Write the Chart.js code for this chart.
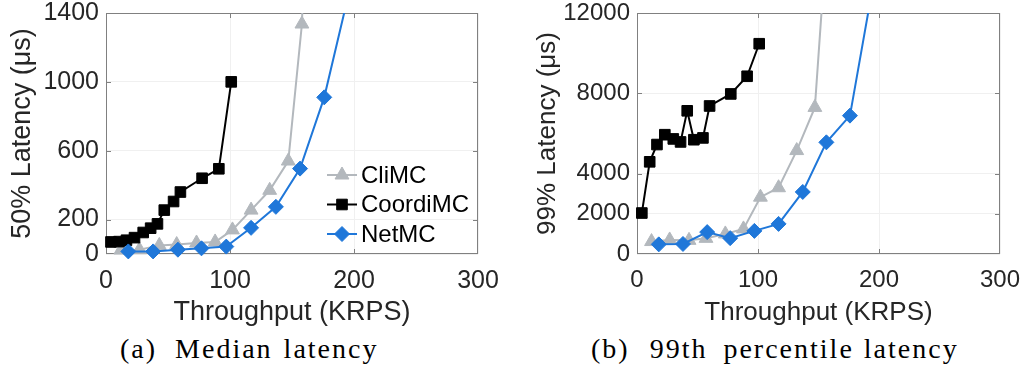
<!DOCTYPE html>
<html>
<head>
<meta charset="utf-8">
<script src="https://cdn.jsdelivr.net/npm/chart.js@4.4.1/dist/chart.umd.min.js"></script>
<style>
body{margin:0;background:#fff;width:1027px;height:369px;position:relative;overflow:hidden}
canvas{position:absolute;top:0}
#c1{left:0}
#c2{left:520px}
.cap{position:absolute;top:334px;height:30px;line-height:30px;font-family:"Liberation Serif","DejaVu Serif",serif;font-size:28px;color:#000;letter-spacing:2px;white-space:nowrap}
.cap span{display:inline-block}
</style>
</head>
<body>
<canvas id="c1" width="520" height="330"></canvas>
<canvas id="c2" width="507" height="330"></canvas>
<div class="cap" style="left:120px">(a)<span style="width:18px"></span>Median<span style="width:11px"></span>latency</div>
<div class="cap" style="left:591px">(b)<span style="width:20px"></span>99th<span style="width:16px"></span>percentile<span style="width:10px"></span>latency</div>
<script>
// series names
var names = ['CliMC', 'CoordiMC', 'NetMC'];

// throughput (KRPS) of each measured point
var cliX = [12, 27, 43, 57, 73, 88, 102, 117, 132, 147, 158, 165];
var coordiX = [4, 10.5, 16.5, 23, 30, 36, 41.5, 47, 54.5, 60, 77.5, 91, 101];
var netX = [18, 38, 58, 77, 97, 117, 137, 156.5, 176, 196];

// median latency (us)
var cliMedian = [23, 25, 50, 55, 64, 70, 140, 255, 370, 540, 1336, 3000];
var coordiMedian = [70, 72, 80, 95, 125, 150, 175, 255, 305, 360, 440, 495, 1000];
var netMedian = [15, 15, 25, 33, 43, 152, 274, 496, 910, 1520];

// 99th percentile latency (us)
var cliP99 = [620, 700, 680, 780, 1000, 1250, 2830, 3300, 5150, 7300, 16800, 30000];
var coordiP99 = [2040, 4590, 5450, 5940, 5730, 5580, 7130, 5690, 5780, 7370, 7970, 8850, 10470];
var netP99 = [480, 500, 1090, 790, 1150, 1500, 3090, 5560, 6890, 13700];

// tick labels
var xTicks = [0, 100, 200, 300];
var medianTicks = [0, 200, 600, 1000, 1400];
var p99Ticks = [0, 2000, 4000, 8000, 12000];

var gray = '#b3b8bd';
var black = '#000000';
var blue = '#1f77d9';
var textColor = '#262626';
var boxColor = '#808080';

function pts(xs, ys){
    var out = [];
    for(var i = 0; i < xs.length; i++){
        out.push({x: xs[i], y: ys[i]});
    }
    return out;
}

function series(label, xs, ys, color, style, r, order){
    return {
        label: label,
        data: pts(xs, ys),
        borderColor: color,
        backgroundColor: color,
        borderWidth: 2,
        pointStyle: style,
        pointRadius: r,
        pointBorderWidth: 1,
        pointBorderColor: color,
        pointBackgroundColor: color,
        tension: 0,
        order: order,
        clip: {left: 12, right: 12, top: 0, bottom: 12}
    };
}

// box round the plot with small ticks pointing inwards, plus the legend inside
var framePlugin = {
    id: 'frame',
    beforeDatasetsDraw: function(chart){
        var ctx = chart.ctx;
        var a = chart.chartArea;
        var xs = chart.scales.x, ys = chart.scales.y;
        ctx.save();
        ctx.strokeStyle = boxColor;
        ctx.lineWidth = 1;
        ctx.strokeRect(a.left + 0.5, a.top + 0.5, a.right - a.left - 1, a.bottom - a.top - 1);
        ctx.beginPath();
        xs.ticks.forEach(function(t){
            var px = Math.round(xs.getPixelForValue(t.value)) + 0.5;
            if(px <= a.left + 2 || px >= a.right - 2) return;
            ctx.moveTo(px, a.top); ctx.lineTo(px, a.top + 5);
            ctx.moveTo(px, a.bottom); ctx.lineTo(px, a.bottom - 5);
        });
        ys.ticks.forEach(function(t){
            var py = Math.round(ys.getPixelForValue(t.value)) + 0.5;
            if(py <= a.top + 2 || py >= a.bottom - 2) return;
            ctx.moveTo(a.left, py); ctx.lineTo(a.left + 5, py);
            ctx.moveTo(a.right, py); ctx.lineTo(a.right - 5, py);
        });
        ctx.stroke();
        ctx.restore();
    },
    afterDraw: function(chart, args, opts){
        if(!opts || !opts.show) return;
        var ctx = chart.ctx;
        ctx.save();
        ctx.font = opts.fontSize + 'px "Liberation Sans", Arial, sans-serif';
        ctx.textBaseline = 'middle';
        ctx.textAlign = 'left';
        chart.data.datasets.forEach(function(ds, row){
            var y = opts.y + row * opts.gap;
            ctx.strokeStyle = ds.borderColor;
            ctx.fillStyle = ds.borderColor;
            ctx.lineWidth = 2;
            ctx.beginPath();
            ctx.moveTo(opts.x, y);
            ctx.lineTo(opts.x + 30, y);
            ctx.stroke();
            ctx.lineWidth = 1;
            Chart.helpers.drawPoint(ctx, {pointStyle: ds.pointStyle, radius: ds.pointRadius, rotation: 0, borderWidth: 1}, opts.x + 15, y);
            ctx.fillStyle = '#000';
            ctx.fillText(ds.label, opts.x + 34, y + 1);
        });
        ctx.restore();
    }
};

function plain(v){ return String(v); }

function makeChart(id, sets, yTicks, yMax, yTitle, cfg){
    var font = '"Liberation Sans", Arial, sans-serif';
    return new Chart(document.getElementById(id), {
        type: 'line',
        data: {datasets: sets},
        plugins: [framePlugin],
        options: {
            responsive: false,
            animation: false,
            devicePixelRatio: 1,
            layout: {padding: {left: 0, right: cfg.padRight, top: 13, bottom: 1.5}},
            plugins: {
                legend: {display: false},
                tooltip: {enabled: false},
                frame: cfg.legend
            },
            scales: {
                x: {
                    type: 'linear',
                    min: 0,
                    max: 300,
                    afterFit: function(s){ s.height = 74.5; s.paddingLeft = 0; s.paddingRight = 0; },
                    afterBuildTicks: function(s){ s.ticks = xTicks.map(function(v){ return {value: v}; }); },
                    grid: {color: '#f0f0f0', drawTicks: false},
                    border: {display: false},
                    ticks: {padding: 12, color: textColor, callback: plain, font: {family: font, size: cfg.tickSize}},
                    title: {display: true, text: 'Throughput (KRPS)', color: textColor, padding: {top: 0, bottom: 0}, font: {family: font, size: cfg.titleSize}}
                },
                y: {
                    type: 'linear',
                    min: 0,
                    max: yMax,
                    afterFit: function(s){ s.width = cfg.yWidth; s.paddingTop = 0; s.paddingBottom = 0; },
                    afterBuildTicks: function(s){ s.ticks = yTicks.map(function(v){ return {value: v}; }); },
                    grid: {color: '#f0f0f0', drawTicks: false},
                    border: {display: false},
                    ticks: {padding: 7, color: textColor, callback: plain, font: {family: font, size: cfg.tickSize}},
                    title: {display: true, text: yTitle, color: textColor, padding: {top: cfg.yTitlePad, bottom: 0}, font: {family: font, size: cfg.titleSize}}
                }
            }
        }
    });
}

makeChart('c1', [
    series(names[0], cliX, cliMedian, gray, 'triangle', 8, 2),
    series(names[1], coordiX, coordiMedian, black, 'rect', 7.5, 1),
    series(names[2], netX, netMedian, blue, 'rectRot', 7.5, 0)
], medianTicks, 1400, '50% Latency (μs)', {
    padRight: 42, yWidth: 106, tickSize: 25, titleSize: 27, yTitlePad: 6,
    legend: {show: true, x: 327, y: 175, gap: 29.5, fontSize: 24}
});

makeChart('c2', [
    series(names[0], cliX, cliP99, gray, 'triangle', 8, 2),
    series(names[1], coordiX, coordiP99, black, 'rect', 7.5, 1),
    series(names[2], netX, netP99, blue, 'rectRot', 7.5, 0)
], p99Ticks, 12000, '99% Latency (μs)', {
    padRight: 27, yWidth: 117, tickSize: 24, titleSize: 26, yTitlePad: 12,
    legend: {show: false}
});
</script>
</body>
</html>
